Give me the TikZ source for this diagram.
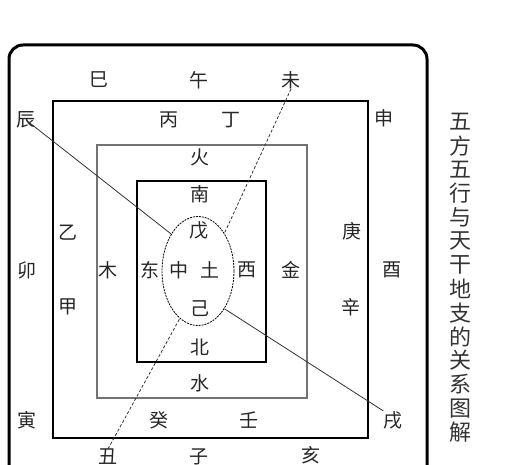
\documentclass[tikz,border=0pt]{standalone}
\usepackage{fontspec}
\setmainfont{Noto Sans CJK SC}
\usetikzlibrary{shapes.geometric}

\begin{document}
\begin{tikzpicture}[x=1pt,y=-1pt,
  lbl/.style={inner sep=0pt,font=\fontsize{19}{19}\selectfont,text=black!85},
  ttl/.style={inner sep=0pt,font=\fontsize{22}{22}\selectfont,text=black!80},
  link/.style={line width=0.8pt,black!80}]
  \useasboundingbox (0,0) rectangle (507,465);
  % draw nested frames
  \draw[line width=3pt,rounded corners=14pt] (9,465) -- (9,45) -- (427,45) -- (427,465);
  \draw[line width=2pt] (53,101) rectangle (368,438);
  \draw[line width=1.3pt,black!55] (97,145) rectangle (307,398);
  \draw[line width=2.5pt] (137,181) rectangle (266,362);
  % centre ellipse
  \node[ellipse,draw,dash pattern=on 2pt off 1pt,line width=0.8pt,minimum width=72,minimum height=109,inner sep=0pt] (mid) at (198,271) {};
  % outer ring
  \node[lbl] (si) at (99,80) {巳};
  \node[lbl] (wu) at (199,80) {午};
  \node[lbl] (wei) at (291,80) {未};
  \node[lbl] (chen) at (26,120) {辰};
  \node[lbl] (shen) at (384,118) {申};
  \node[lbl] (mao) at (27,270) {卯};
  \node[lbl] (you) at (392,270) {酉};
  \node[lbl] (yin) at (27,420) {寅};
  \node[lbl] (xu) at (393,420) {戌};
  \node[lbl] (chou) at (108,457) {丑};
  \node[lbl] (zi) at (199,457) {子};
  \node[lbl] (hai) at (311,455) {亥};
  % second ring
  \node[lbl] (bing) at (169,120) {丙};
  \node[lbl] (ding) at (231,120) {丁};
  \node[lbl] (yi) at (68,233) {乙};
  \node[lbl] (jia) at (68,307) {甲};
  \node[lbl] (geng) at (352,231) {庚};
  \node[lbl] (xin) at (351,307) {辛};
  \node[lbl] (gui) at (159,420) {癸};
  \node[lbl] (ren) at (249,420) {壬};
  % third ring
  \node[lbl] (huo) at (200,157) {火};
  \node[lbl] (mu) at (108,270) {木};
  \node[lbl] (jin) at (291,270) {金};
  \node[lbl] (shui) at (200,383) {水};
  % inner box
  \node[lbl] (nan) at (200,194) {南};
  \node[lbl] (dong) at (150,270) {东};
  \node[lbl] (xi) at (247,270) {西};
  \node[lbl] (bei) at (200,347) {北};
  \node[lbl] (wuu) at (199,230) {戊};
  \node[lbl] (zhong) at (179,270) {中};
  \node[lbl] (tu) at (210,270) {土};
  \node[lbl] (ji) at (200,309) {己};
  % links to the ellipse
  \draw[link] (chen.center) -- (mid.126);
  \draw[link,densely dashed] (wei.south) -- (mid.55);
  \draw[link,densely dashed] (chou.north) -- (mid.249);
  \draw[link] (xu.north west) -- (mid.305);
  % vertical title
  \foreach \c [count=\i from 0] in {五,方,五,行,与,天,干,地,支,的,关,系,图,解}
    \node[ttl] (t\i) at (460,{122+23.85*\i}) {\c};
\end{tikzpicture}
\end{document}
